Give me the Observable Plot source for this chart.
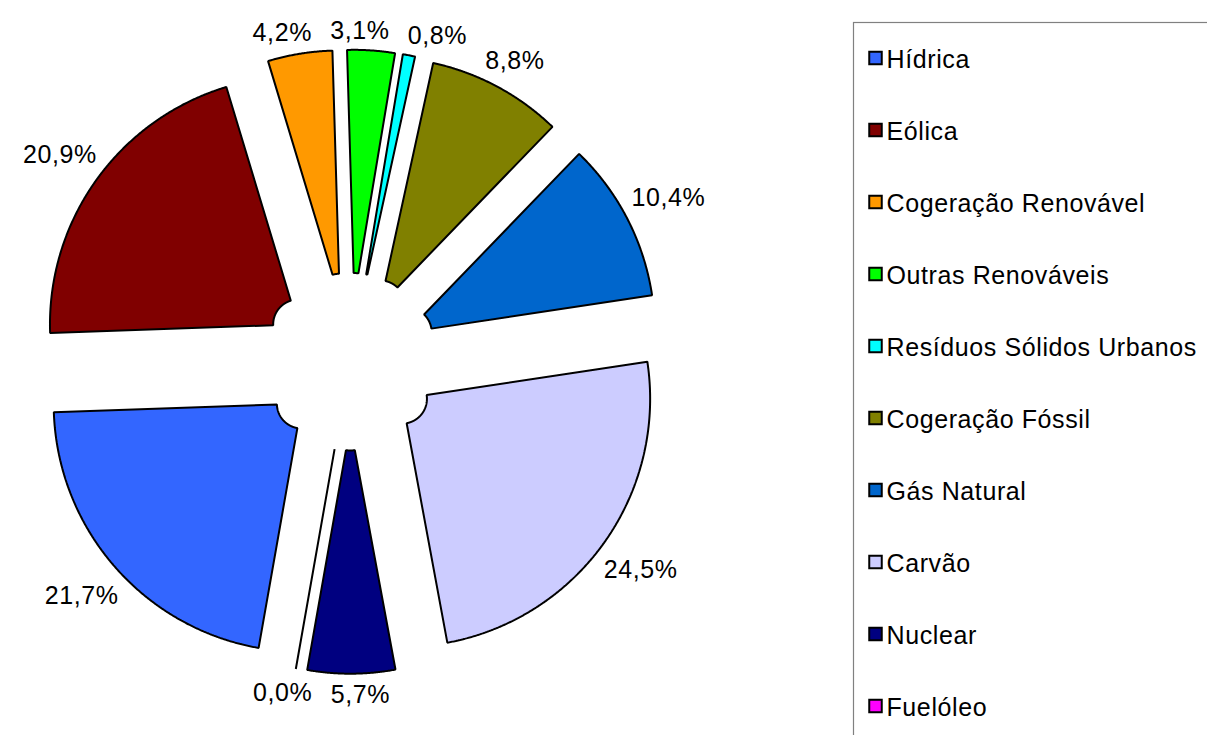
<!DOCTYPE html>
<html>
<head>
<meta charset="utf-8">
<script src="https://cdn.jsdelivr.net/npm/d3@7"></script>
<script src="https://cdn.jsdelivr.net/npm/@observablehq/plot@0.6"></script>
<style>
  html, body { margin: 0; padding: 0; background: #fff; }
  #chart svg text { letter-spacing: 0.6px; }
</style>
</head>
<body>
<div id="chart"></div>
<script>
// ---- data ----
const categories = ["Hídrica", "Eólica", "Cogeração Renovável", "Outras Renováveis", "Resíduos Sólidos Urbanos", "Cogeração Fóssil", "Gás Natural", "Carvão", "Nuclear", "Fuelóleo"];
const shares = [21.7, 20.9, 4.2, 3.1, 0.8, 8.8, 10.4, 24.5, 5.7, 0.0];
const colors = ["#3366FF", "#800000", "#FF9900", "#00FF00", "#00FFFF", "#808000", "#0066CC", "#CCCCFF", "#000080", "#FF00FF"];

// ---- layout ----
const W = 1207, H = 735;
const cx = 349.5, cy = 361.2;        // pie centre (before explosion)
const R = 248, r0 = R * 0.10;        // outer radius, doughnut hole 10%
const explode = 64;                  // explosion distance
const firstSliceAngle = 190;         // degrees clockwise from 12 o'clock
const fontSize = 25;
const deg = Math.PI / 180;
const font = "Arial, 'Liberation Sans', sans-serif";

const data = categories.map((name, i) => ({name, value: shares[i], color: colors[i]}));
const arcs = d3.pie().value(d => d.value).sort(null)
  .startAngle(firstSliceAngle * deg).endAngle((firstSliceAngle + 360) * deg)(data);

const fmt = v => v.toFixed(1).replace(".", ",") + "%";
const charW = ch => ch === "," ? 0.278 : ch === "%" ? 0.889 : 0.556;
const textWidth = s => [...s].reduce((a, ch) => a + charW(ch), 0) * fontSize + 0.6 * s.length;

const ring = [];
const labelSpecs = [];
arcs.forEach(a => {
  const mid = (a.startAngle + a.endAngle) / 2;
  const ax = cx + explode * Math.sin(mid), ay = cy - explode * Math.cos(mid);
  const span = a.endAngle - a.startAngle;
  const n = Math.ceil(span / (0.25 * deg));
  const name = a.data.name;
  for (let k = 0; k <= n; k++) {
    const t = n === 0 ? a.startAngle : a.startAngle + span * k / n;
    ring.push({name, x: ax + R * Math.sin(t), y: ay - R * Math.cos(t)});
  }
  for (let k = n; k >= 0; k--) {
    const t = n === 0 ? a.startAngle : a.startAngle + span * k / n;
    ring.push({name, x: ax + r0 * Math.sin(t), y: ay - r0 * Math.cos(t)});
  }
  const text = fmt(a.data.value);
  labelSpecs.push({text, ax, ay, mid, angle: mid, w: textWidth(text), h: 20});
});

// label placement: just outside the arc, then spread apart if boxes collide
const gap = 9;
const place = l => {
  const s = Math.sin(l.angle), c = Math.cos(l.angle);
  const dist = R + gap + Math.abs(s) * l.w / 2 + Math.abs(c) * l.h / 2;
  return [l.ax + dist * s, l.ay - dist * c];
};
for (let iter = 0; iter < 600; iter++) {
  let moved = false;
  for (let i = 0; i < labelSpecs.length; i++) {
    for (let j = i + 1; j < labelSpecs.length; j++) {
      const A = labelSpecs[i], B = labelSpecs[j];
      const [xa, ya] = place(A), [xb, yb] = place(B);
      const ox = (A.w + B.w) / 2 + 18 - Math.abs(xa - xb);
      const oy = (A.h + B.h) / 2 + 12 - Math.abs(ya - yb);
      if (ox > 0 && oy > 0) {
        const [lo, hi] = A.mid < B.mid ? [A, B] : [B, A];
        lo.angle -= 0.1 * deg; hi.angle += 0.1 * deg; moved = true;
      }
    }
  }
  if (!moved) break;
}
const labels = labelSpecs.map(l => { const [x, y] = place(l); return {text: l.text, x, y: y + 1}; });

// legend layout
const legX = 853.5, legY = 22.5, rowTop = 58, rowStep = 72, sw = 12.5, swX = 875.5, textX = 886;
const legendRows = data.map((d, i) => ({...d, y: rowTop + rowStep * i}));

const chart = Plot.plot({
  width: W, height: H,
  margin: 0,
  x: {domain: [0, W], range: [0, W], axis: null},
  y: {domain: [0, H], range: [0, H], axis: null},
  color: {domain: categories, range: colors},
  style: {fontFamily: font, background: "#fff"},
  marks: [
    Plot.line(ring, {x: "x", y: "y", z: "name", fill: "name", stroke: "black", strokeWidth: 2,
      strokeLinejoin: "miter", curve: "linear-closed"}),
    Plot.text(labels, {x: "x", y: "y", text: "text", fontSize, fill: "black",
      textAnchor: "middle", lineAnchor: "middle", fontFamily: font}),
    // legend
    Plot.rect([{x1: legX, x2: W + 20, y1: legY, y2: H + 20}], {x1: "x1", x2: "x2", y1: "y1", y2: "y2",
      fill: "none", stroke: "#808080", strokeWidth: 1.2}),
    Plot.rect(legendRows, {x1: () => swX - sw / 2, x2: () => swX + sw / 2,
      y1: d => d.y - sw / 2, y2: d => d.y + sw / 2, fill: "name", stroke: "black", strokeWidth: 2}),
    Plot.text(legendRows, {x: () => textX, y: d => d.y + 1, text: "name", fontSize, fill: "black",
      textAnchor: "start", lineAnchor: "middle", fontFamily: font})
  ]
});
document.getElementById("chart").appendChild(chart);
</script>
</body>
</html>
